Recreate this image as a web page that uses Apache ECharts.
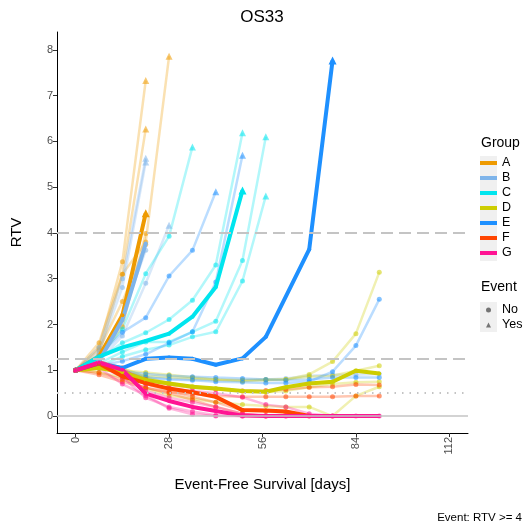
<!DOCTYPE html>
<html>
<head>
<meta charset="utf-8">
<script src="https://cdn.jsdelivr.net/npm/echarts@6/dist/echarts.min.js"></script>
<style>
  html, body { margin: 0; padding: 0; background: #fff; }
  #chart { width: 526px; height: 525px; }
</style>
</head>
<body>
<div id="chart"></div>
<script>
// measurement days (x values)
const days = [0, 7, 14, 21, 28, 35, 42, 50, 57, 63, 70, 77, 84, 91]
const groupNames = ['A', 'B', 'C', 'D', 'E', 'F', 'G']
const eventNames = ['No', 'Yes']
const xTicks = [0, 28, 56, 84, 112]
const yTicks = [0, 1, 2, 3, 4, 5, 6, 7, 8]
const refLines = [4, 1.25, 0.5, 0]

// per-mouse RTV (thin lines) and group summary (thick lines)
const miceA = [
  [1, 1.6, 3.1, 3.8, 7.86],
  [1, 1.5, 3.37, 7.33],
  [1, 1.35, 3.1, 6.27],
  [1, 1.25, 1.95, 3.99],
  [1, 1.45, 2.5, 3.75]
]
const meanA = [1, 1.3, 2.2, 4.43]

const miceB = [
  [1, 1.5, 3.0, 5.63],
  [1, 1.4, 2.81, 5.55],
  [1, 1.2, 1.75, 2.9, 4.17],
  [1, 1.3, 2.2, 3.62],
  [1, 1.1, 0.95, 0.85, 0.82, 0.8, 0.78, 0.78, 0.8, 0.82, 0.88, 0.9, 0.9, 0.92]
]
const meanB = [1, 1.2, 2.1, 3.77]

const miceC = [
  [1, 1.3, 1.9, 3.11, 3.93, 5.88],
  [1, 1.25, 1.6, 1.82, 2.11, 2.53, 3.3, 6.19],
  [1, 1.15, 1.4, 1.62, 1.62, 1.84, 2.07, 3.4, 6.1],
  [1, 1.1, 1.3, 1.45, 1.55, 1.73, 1.84, 2.95, 4.81]
]
const meanC = [1, 1.3, 1.5, 1.64, 1.8, 2.17, 2.82, 4.93]

const miceD = [
  [1, 1.1, 1.0, 0.95, 0.9, 0.85, 0.8, 0.79, 0.8, 0.8, 0.91, 1.19, 1.8, 3.14],
  [1, 1.05, 0.95, 0.88, 0.85, 0.82, 0.8, 0.76, 0.78, 0.8, 0.86, 0.88, 0.99, 1.1],
  [1, 0.95, 0.85, 0.6, 0.45, 0.38, 0.3, 0.25, 0.22, 0.2, 0.2, 0, 0.44, 0.64],
  [1, 1.2, 1.05, 0.85, 0.72, 0.65, 0.6, 0.55, 0.52, 0.55, 0.63, 0.7, 0.74, 0.75]
]
const meanD = [1, 1.05, 0.96, 0.79, 0.71, 0.64, 0.6, 0.55, 0.53, 0.63, 0.71, 0.75, 0.99, 0.93]

const miceE = [
  [1, 1.3, 1.83, 2.15, 3.06, 3.62, 4.9],
  [1, 1.1, 1.2, 1.35, 1.6, 1.84, 2.93, 5.7],
  [1, 1.1, 0.95, 0.85, 0.8, 0.78, 0.75, 0.74, 0.72, 0.72, 0.75, 0.97, 1.54, 2.55],
  [1, 1.05, 0.98, 0.92, 0.88, 0.86, 0.84, 0.82, 0.8, 0.78, 0.8, 0.84, 0.84, 0.84]
]
const meanE = [1, 1.15, 1.05, 1.25, 1.28, 1.25, 1.12, 1.26, 1.73, null, 3.64, 7.77]

const miceF = [
  [1, 1.2, 1.0, 0.8, 0.68, 0.62, 0.58, 0.55, 0.56, 0.58, 0.63, 0.64, 0.69, 0.68],
  [1, 0.95, 0.8, 0.62, 0.52, 0.48, 0.44, 0.42, 0.42, 0.42, 0.42, 0.42, 0.44, 0.44],
  [1, 1.1, 0.9, 0.7, 0.55, 0.42, 0.3, 0.12, 0.1, 0.08, 0],
  [1, 0.9, 0.75, 0.62, 0.5, 0.35, 0.2, 0.05, 0]
]
const meanF = [1, 1.15, 0.87, 0.72, 0.6, 0.52, 0.42, 0.13, 0.12, 0.1, 0]

const miceG = [
  [1, 1.1, 0.85, 0.4, 0.2, 0.1, 0.02, 0, 0, 0, 0, 0, 0, 0],
  [1, 1.15, 0.95, 0.55, 0.4, 0.3, 0.2, 0.05, 0, 0],
  [1, 1.2, 1.05, 0.7, 0.6, 0.55, 0.5, 0.41, 0.25, 0.2, 0.05, 0],
  [1, 1.05, 0.7, 0.45, 0.17, 0.04, 0, 0]
]
const meanG = [1, 1.17, 1.01, 0.49, 0.33, 0.2, 0.11, 0.01, 0, 0, 0, 0, 0, 0]

const mice = { A: miceA, B: miceB, C: miceC, D: miceD, E: miceE, F: miceF, G: miceG }
const means = { A: meanA, B: meanB, C: meanC, D: meanD, E: meanE, F: meanF, G: meanG }
const colors = {
  A: '#EE9A00', B: '#7EB4EA', C: '#00E5EE', D: '#CDCD00',
  E: '#1E90FF', F: '#FF4500', G: '#FF1493'
}

const FONT = 'Liberation Sans, Arial, sans-serif'

function toPoints(vals) {
  return vals.map((v, i) => [days[i], v])
}
const symbolFn = (v) => (v[1] >= 4 ? 'triangle' : 'circle')

const series = []

// reference lines
series.push({
  type: 'line',
  name: 'ref',
  data: [[0, 0]],
  symbol: 'none',
  lineStyle: { opacity: 0 },
  silent: true,
  z: 1,
  markLine: {
    silent: true,
    symbol: 'none',
    label: { show: false },
    data: refLines.map((y) => ({
      yAxis: y,
      lineStyle: {
        color: '#C4C4C4',
        width: y === 0 ? 1.5 : 2,
        type: y === 0 ? 'solid' : (y === 0.5 ? [1.5, 6] : [12, 6])
      }
    }))
  }
})

// thin per-mouse lines
groupNames.forEach((g) => {
  mice[g].forEach((vals) => {
    series.push({
      type: 'line',
      name: g + '_mouse',
      data: toPoints(vals),
      connectNulls: true,
      symbol: symbolFn,
      symbolSize: (v) => (v[1] >= 4 ? 7 : 5),
      lineStyle: { color: colors[g], width: 2.5, opacity: 0.3 },
      itemStyle: { color: colors[g], opacity: 0.55 },
      silent: true,
      z: 2
    })
  })
})

// thick summary lines
groupNames.forEach((g) => {
  series.push({
    type: 'line',
    name: g,
    data: toPoints(means[g]),
    connectNulls: true,
    symbol: symbolFn,
    symbolSize: (v) => (v[1] >= 4 ? 8 : 4),
    lineStyle: { color: colors[g], width: 4 },
    itemStyle: { color: colors[g] },
    z: 3
  })
})

// dummy series for the Event legend
eventNames.forEach((n) => {
  series.push({ type: 'scatter', name: n, data: [], itemStyle: { color: '#555' } })
})

const myChart = echarts.init(document.getElementById('chart'))
myChart.setOption({
  animation: false,
  textStyle: { fontFamily: FONT },
  title: [
    { text: 'OS33', left: 262, top: 9, padding: 0, textAlign: 'center',
      textStyle: { fontSize: 17, fontWeight: 'normal', color: '#000', fontFamily: FONT } },
    { text: 'Group', left: 481, top: 136, padding: 0,
      textStyle: { fontSize: 14, fontWeight: 'normal', color: '#000', fontFamily: FONT } },
    { text: 'Event', left: 481, top: 280, padding: 0,
      textStyle: { fontSize: 14, fontWeight: 'normal', color: '#000', fontFamily: FONT } },
    { text: 'Event: RTV >= 4', right: 4, bottom: 1, padding: 0,
      textStyle: { fontSize: 11.5, fontWeight: 'normal', color: '#000', fontFamily: FONT } }
  ],
  graphic: [
    { type: 'rect', left: 480, top: 156, shape: { width: 17, height: 105 },
      style: { fill: '#F0F0F0' }, z: -1 },
    { type: 'rect', left: 480, top: 302, shape: { width: 17, height: 30 },
      style: { fill: '#F0F0F0' }, z: -1 }
  ],
  legend: [
    {
      data: groupNames,
      orient: 'vertical',
      left: 480,
      top: 156,
      padding: 0,
      icon: 'rect',
      itemWidth: 17,
      itemHeight: 4,
      itemGap: 1,
      selectedMode: false,
      textStyle: { fontSize: 12.5, color: '#000', lineHeight: 14, fontFamily: FONT }
    },
    {
      data: [{ name: 'No', icon: 'circle' }, { name: 'Yes', icon: 'triangle' }],
      orient: 'vertical',
      left: 486,
      top: 303,
      padding: 0,
      itemWidth: 5,
      itemHeight: 5,
      itemGap: 1,
      selectedMode: false,
      textStyle: { fontSize: 12.5, color: '#000', lineHeight: 14, fontFamily: FONT, padding: [0, 0, 0, 6] }
    }
  ],
  grid: { left: 57, right: 58, top: 32, bottom: 92, containLabel: false },
  xAxis: {
    type: 'value',
    min: -5.6,
    max: 117.6,
    name: 'Event-Free Survival [days]',
    nameLocation: 'middle',
    nameGap: 44,
    nameTextStyle: { fontSize: 15, color: '#000', fontFamily: FONT },
    axisLine: { show: true, onZero: false, lineStyle: { color: '#000', width: 1 } },
    axisTick: { show: true, customValues: xTicks, length: 4, lineStyle: { color: '#333' } },
    axisLabel: { customValues: xTicks, rotate: 90, margin: 4, color: '#4D4D4D', fontSize: 11 },
    splitLine: { show: false }
  },
  yAxis: {
    type: 'value',
    min: -0.37,
    max: 8.39,
    name: 'RTV',
    nameLocation: 'middle',
    nameGap: 33,
    nameRotate: 90,
    nameTextStyle: { fontSize: 15, color: '#000', fontFamily: FONT },
    axisLine: { show: true, onZero: false, lineStyle: { color: '#000', width: 1 } },
    axisTick: { show: true, customValues: yTicks, length: 4, lineStyle: { color: '#333' } },
    axisLabel: { customValues: yTicks, margin: 4, color: '#4D4D4D', fontSize: 11 },
    splitLine: { show: false }
  },
  series: series
})
window.addEventListener('resize', () => {
  myChart.resize()
})
</script>
</body>
</html>
